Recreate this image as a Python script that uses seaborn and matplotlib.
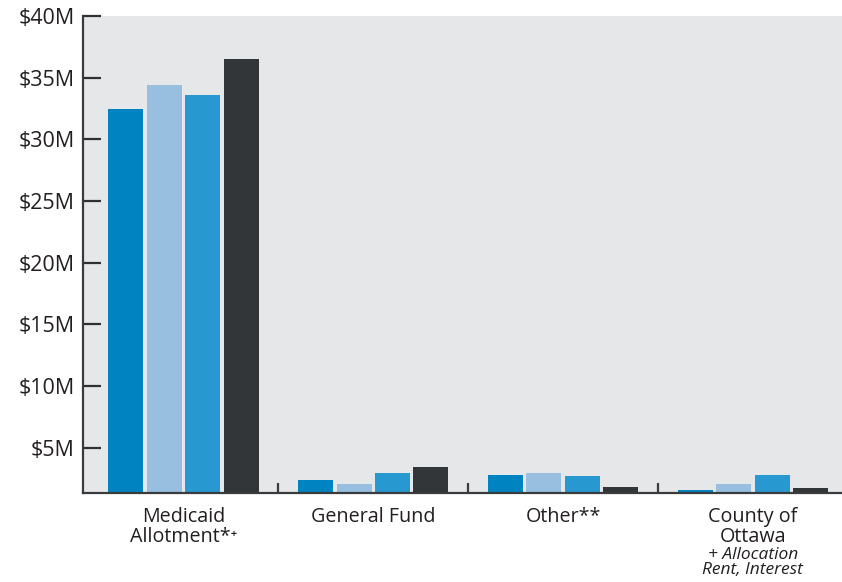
import matplotlib
matplotlib.use("Agg")
import matplotlib.pyplot as plt
import matplotlib.transforms as mtransforms
from matplotlib.ticker import FuncFormatter, FixedLocator
import seaborn as sns
import pandas as pd

categories = ["Medicaid\nAllotment*\u207a", "General Fund", "Other**", "County of\nOttawa"]
category_notes = ["", "", "", "+ Allocation\nRent, Interest"]
series = ["Year 1", "Year 2", "Year 3", "Year 4"]
values = {
    "Year 1": [32.45, 2.40, 2.80, 1.60],
    "Year 2": [34.40, 2.08, 2.97, 2.08],
    "Year 3": [33.60, 2.97, 2.73, 2.80],
    "Year 4": [36.50, 3.46, 1.84, 1.70],
}
colors = ["#0083C1", "#98BEE0", "#2799D0", "#333638"]
y_ticks = [5, 10, 15, 20, 25, 30, 35, 40]

rows = []
for s in series:
    for c, v in zip(categories, values[s]):
        rows.append({"category": c, "series": s, "value": v})
df = pd.DataFrame(rows)

sns.set_theme(style="white")
plt.rcParams["font.family"] = ["Open Sans", "DejaVu Sans"]

fig = plt.figure(figsize=(8.42, 5.82), dpi=100)
ax = fig.add_axes([83 / 842, 89 / 582, 1 - 83 / 842, (493 - 16) / 582])
ax.set_facecolor("#E6E7E9")

sns.barplot(data=df, x="category", y="value", hue="series", order=categories,
            hue_order=series, palette=colors, width=0.81, gap=0.09,
            saturation=1, legend=False, ax=ax, linewidth=0)

ax.set_ylim(1.33, 40)
ax.set_xlim(-0.53, 3.47)
ax.yaxis.set_major_locator(FixedLocator(y_ticks))
ax.yaxis.set_major_formatter(FuncFormatter(lambda v, p: f"${v:.0f}M"))
ax.set_xlabel("")
ax.set_ylabel("")

for side in ["top", "right"]:
    ax.spines[side].set_visible(False)
for side in ["left", "bottom"]:
    ax.spines[side].set_color("#3A3B3C")
    ax.spines[side].set_linewidth(1.6)

ax.tick_params(axis="y", direction="in", length=13, width=1.6, color="#2F3031",
               labelsize=15.5, labelcolor="#231F20", pad=6, left=True)
ax.tick_params(axis="x", which="major", length=0, labelsize=14.2,
               labelcolor="#231F20", pad=10)
ax.xaxis.set_minor_locator(FixedLocator([0.5, 1.5, 2.5]))
ax.tick_params(axis="x", which="minor", direction="in", length=7, width=1.6,
               color="#3A3B3C", bottom=True)
for lbl in ax.get_xticklabels():
    lbl.set_linespacing(0.98)

trans = mtransforms.blended_transform_factory(ax.transData, ax.transAxes)
for i, note in enumerate(category_notes):
    if note:
        ax.text(i, -0.113, note, transform=trans, ha="center", va="top",
                fontsize=12.5, style="italic", color="#231F20", linespacing=0.95)

fig.savefig("out.png", dpi=100)
